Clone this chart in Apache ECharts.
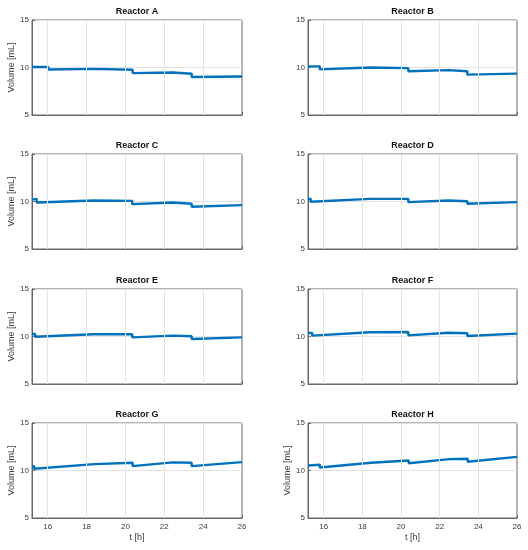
<!DOCTYPE html>
<html>
<head>
<meta charset="utf-8">
<script src="https://cdn.jsdelivr.net/npm/echarts@6/dist/echarts.min.js"></script>
<style>html,body{margin:0;padding:0;background:#fff}#c{width:528px;height:550px}</style>
</head>
<body>
<div id="c"></div>
<script>
// ---- data ----
const names = ['Reactor A','Reactor B','Reactor C','Reactor D','Reactor E','Reactor F','Reactor G','Reactor H'];
const tFirst = 15.19;
const tLast = 26;
const xTicks = [16, 18, 20, 22, 24, 26];
const yTicks = [5, 10, 15];

const jumpsA = [16.03, 18.38, 20.37, 22.43, 23.41];
const startA = [10.05, 9.79, 9.72, 9.41, 9.30, 9.00];
const endA   = [10.05, 9.86, 9.76, 9.47, 9.34, 9.06];

const jumpsB = [15.80, 18.40, 20.38, 22.45, 23.43];
const startB = [10.12, 9.80, 9.85, 9.60, 9.57, 9.25];
const endB   = [10.12, 10.00, 9.93, 9.72, 9.60, 9.35];

const jumpsC = [15.43, 18.35, 20.35, 22.45, 23.41];
const startC = [10.20, 9.90, 9.93, 9.72, 9.69, 9.44];
const endC   = [10.28, 10.10, 10.07, 9.90, 9.76, 9.62];

const jumpsD = [15.33, 18.40, 20.38, 22.45, 23.43];
const startD = [10.28, 9.97, 10.10, 9.93, 9.93, 9.76];
const endD   = [10.28, 10.28, 10.28, 10.10, 10.03, 9.93];

const jumpsE = [15.35, 18.35, 20.35, 22.45, 23.41];
const startE = [10.27, 9.98, 10.05, 9.91, 9.95, 9.73];
const endE   = [10.27, 10.23, 10.23, 10.09, 10.02, 9.91];

const jumpsF = [15.41, 18.40, 20.38, 22.45, 23.43];
const startF = [10.37, 10.09, 10.23, 10.12, 10.23, 10.05];
const endF   = [10.37, 10.44, 10.48, 10.40, 10.34, 10.30];

const jumpsG = [15.30, 18.40, 20.37, 22.43, 23.41];
const startG = [10.46, 10.18, 10.46, 10.46, 10.67, 10.46];
const endG   = [10.46, 10.67, 10.81, 10.85, 10.81, 10.88];

const jumpsH = [15.80, 18.45, 20.40, 22.50, 23.45];
const startH = [10.53, 10.32, 10.67, 10.77, 11.02, 10.92];
const endH   = [10.60, 10.81, 11.06, 11.20, 11.23, 11.44];

const jumps = [jumpsA, jumpsB, jumpsC, jumpsD, jumpsE, jumpsF, jumpsG, jumpsH];
const starts = [startA, startB, startC, startD, startE, startF, startG, startH];
const ends = [endA, endB, endC, endD, endE, endF, endG, endH];

// ---- build ----
function buildLine(j, s, e) {
  const bounds = [tFirst].concat(j, [tLast]);
  const pts = [];
  for (let i = 0; i < s.length; i++) {
    pts.push([bounds[i], s[i]]);
    pts.push([bounds[i + 1], e[i]]);
  }
  return pts;
}

const colLeft = [32, 308];
const colWidth = [210, 209];
const rowTop = [20, 154, 289, 423];
const plotH = 95;
const lineColor = '#0072BD';
const axisColor = '#666';
const gridColor = '#e3e3e3';
const textColor = '#3a3a3a';
const fontFamily = 'Liberation Sans, Arial, sans-serif';

const grids = [], xAxes = [], yAxes = [], series = [], titles = [];
for (let k = 0; k < 8; k++) {
  const col = k % 2, row = Math.floor(k / 2);
  grids.push({
    left: colLeft[col], top: rowTop[row], width: colWidth[col], height: plotH,
    show: true, borderColor: axisColor, borderWidth: 1, backgroundColor: '#fff',
    containLabel: false
  });
  const bottomRow = row === 3;
  xAxes.push({
    type: 'value', gridIndex: k, min: tFirst, max: tLast,
    name: bottomRow ? 't [h]' : '', nameLocation: 'middle', nameGap: 15,
    nameTextStyle: { fontSize: 9, color: textColor, fontFamily },
    axisLine: { show: true, onZero: false, lineStyle: { color: axisColor, width: 1 } },
    axisTick: { show: true, inside: true, length: 3, lineStyle: { color: axisColor }, customValues: xTicks },
    axisLabel: { show: bottomRow, customValues: xTicks, fontSize: 8, color: textColor, fontFamily, margin: 5 },
    splitLine: { show: false }
  });
  const showYName = col === 0 || k === 7;
  yAxes.push({
    type: 'value', gridIndex: k, min: 5, max: 15, interval: 5,
    name: showYName ? 'Volume [mL]' : '', nameLocation: 'middle', nameGap: 15,
    nameTextStyle: { fontSize: 9, color: textColor, fontFamily },
    axisLine: { show: true, lineStyle: { color: axisColor, width: 1 } },
    axisTick: { show: true, inside: true, length: 3, lineStyle: { color: axisColor } },
    axisLabel: { fontSize: 8, color: textColor, fontFamily, margin: 3 },
    splitLine: { show: true, lineStyle: { color: gridColor, width: 1 } }
  });
  // vertical grid lines at x ticks (drawn under the data line)
  series.push({
    type: 'line', xAxisIndex: k, yAxisIndex: k, data: [], z: 1, silent: true,
    animation: false,
    markLine: {
      silent: true, symbol: ['none', 'none'], animation: false,
      label: { show: false },
      lineStyle: { color: gridColor, width: 1, type: 'solid' },
      emphasis: { disabled: true },
      data: xTicks.slice(0, -1).map(v => ({ xAxis: v }))
    }
  });
  series.push({
    type: 'line', xAxisIndex: k, yAxisIndex: k, z: 3,
    data: buildLine(jumps[k], starts[k], ends[k]),
    showSymbol: false, symbol: 'none', animation: false,
    lineStyle: { color: lineColor, width: 2.4 }, clip: true
  });
  titles.push({
    text: names[k], left: colLeft[col] + colWidth[col] / 2, top: rowTop[row] - 13,
    textAlign: 'center', padding: 0,
    textStyle: { fontSize: 9, fontWeight: 'bold', color: '#111', fontFamily }
  });
}

const chart = echarts.init(document.getElementById('c'), null, { renderer: 'canvas' });
chart.setOption({
  backgroundColor: '#fff',
  animation: false,
  title: titles,
  grid: grids,
  xAxis: xAxes,
  yAxis: yAxes,
  series: series
});
</script>
</body>
</html>
